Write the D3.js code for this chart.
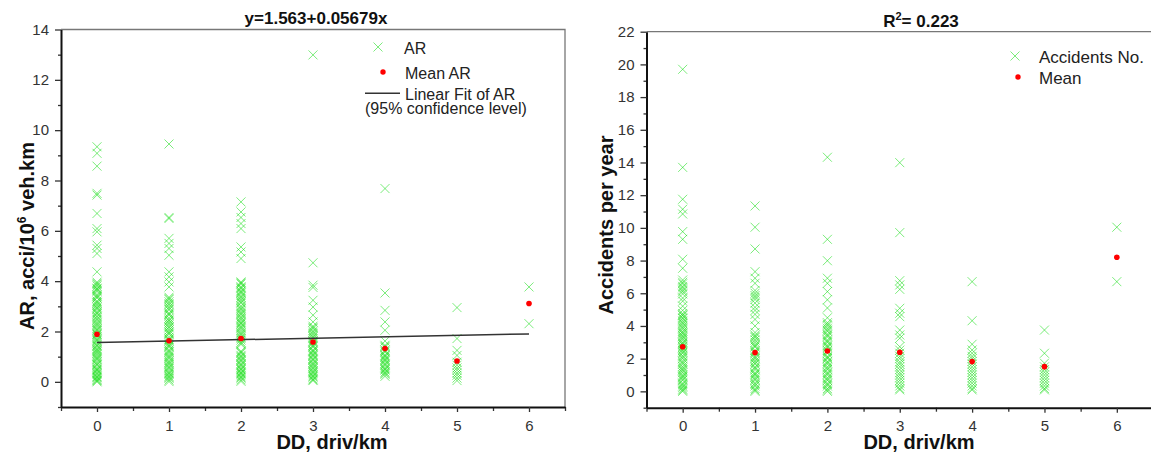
<!DOCTYPE html>
<html lang="en">
<head>
<meta charset="UTF-8">
<title>AR and accidents vs DD</title>
<script src="https://d3js.org/d3.v7.min.js"></script>
<style>
    body { margin: 0; background: #fff; }
    svg { display: block; font-family: 'Liberation Sans', Arial, sans-serif; }
    .tick text { fill: #333; font-size: 15px; }
    .axis-title { font-weight: bold; font-size: 20px; fill: #111; }
    .chart-title { font-weight: bold; font-size: 17px; fill: #111; }
    .legend-text { fill: #222; }
</style>
</head>
<body>
<svg id="chart" width="1151" height="452"></svg>
<script>
// DD categories and tick labels
const ddTicks = [0, 1, 2, 3, 4, 5, 6];
const arTicks = [0, 2, 4, 6, 8, 10, 12, 14];
const accTicks = [0, 2, 4, 6, 8, 10, 12, 14, 16, 18, 20, 22];

// AR values per DD (left panel)
const ar0 = [9.34, 9.08, 8.57, 7.49, 7.42, 6.69, 6.09, 5.96, 5.43, 5.30, 5.10, 4.37, 3.96, 3.91, 3.87, 3.81, 3.72, 3.69, 3.64, 3.59, 3.47, 3.42, 3.38, 3.33, 3.21, 3.16, 3.12, 3.05, 2.98, 2.93, 2.88, 2.79, 2.74, 2.70, 2.61, 2.56, 2.49, 2.44, 2.36, 2.31, 2.25, 2.19, 2.11, 2.07, 2.03, 1.95, 1.90, 1.86, 1.79, 1.71, 1.67, 1.62, 1.55, 1.47, 1.44, 1.40, 1.32, 1.28, 1.24, 1.19, 1.13, 1.08, 1.01, 0.96, 0.92, 0.88, 0.80, 0.73, 0.69, 0.66, 0.57, 0.51, 0.47, 0.44, 0.37, 0.33, 0.29, 0.22, 0.19, 0.16, 0.10, 0.06, 0.04, 0.0];
const ar1 = [9.45, 6.53, 6.49, 5.70, 5.50, 5.30, 5.03, 4.37, 4.17, 3.97, 3.77, 3.36, 3.31, 3.27, 3.18, 3.11, 3.06, 2.97, 2.91, 2.86, 2.74, 2.69, 2.65, 2.53, 2.46, 2.41, 2.34, 2.27, 2.19, 2.15, 2.06, 1.98, 1.93, 1.89, 1.77, 1.70, 1.66, 1.61, 1.53, 1.46, 1.42, 1.37, 1.26, 1.21, 1.17, 1.09, 1.02, 0.97, 0.93, 0.84, 0.78, 0.73, 0.69, 0.61, 0.57, 0.53, 0.45, 0.38, 0.34, 0.30, 0.23, 0.18, 0.14, 0.07, 0.01];
const ar2 = [7.15, 6.75, 6.53, 6.29, 6.09, 5.36, 5.16, 4.90, 3.97, 3.93, 3.89, 3.78, 3.74, 3.70, 3.61, 3.56, 3.52, 3.43, 3.37, 3.31, 3.24, 3.18, 3.13, 3.02, 2.95, 2.90, 2.84, 2.76, 2.71, 2.67, 2.58, 2.52, 2.47, 2.39, 2.34, 2.30, 2.21, 2.16, 2.12, 2.04, 1.96, 1.91, 1.85, 1.77, 1.72, 1.66, 1.58, 1.53, 1.49, 1.22, 1.18, 1.14, 1.05, 1.01, 0.97, 0.89, 0.85, 0.81, 0.72, 0.68, 0.64, 0.56, 0.51, 0.47, 0.39, 0.35, 0.31, 0.24, 0.19, 0.15, 0.08, 0.02];
const ar3 = [12.99, 4.73, 3.84, 3.75, 3.24, 2.97, 2.65, 2.38, 2.21, 2.16, 2.12, 2.03, 1.97, 1.91, 1.84, 1.78, 1.72, 1.63, 1.59, 1.55, 1.46, 1.42, 1.38, 1.27, 1.23, 1.19, 1.11, 1.06, 1.02, 0.93, 0.89, 0.86, 0.77, 0.72, 0.68, 0.61, 0.56, 0.52, 0.44, 0.40, 0.35, 0.28, 0.23, 0.19, 0.12, 0.08, 0.05];
const ar4 = [7.68, 3.53, 2.84, 2.38, 2.05, 1.62, 1.45, 1.41, 1.37, 1.26, 1.22, 1.18, 1.07, 1.03, 0.98, 0.91, 0.86, 0.82, 0.73, 0.69, 0.65, 0.56, 0.51, 0.47, 0.39, 0.34, 0.30, 0.22];
const ar5 = [2.95, 1.72, 1.25, 1.05, 0.78, 0.66, 0.55, 0.46, 0.35, 0.26, 0.15, 0.05];
const ar6 = [3.77, 2.31];
const arMean = [1.89, 1.63, 1.72, 1.58, 1.32, 0.83, 3.11];
const fitIntercept = 1.563;
const fitSlope = 0.05679;

// accidents per year per DD (right panel)
const acc0 = [19.7, 13.7, 11.75, 11.14, 10.85, 9.77, 9.30, 8.08, 7.53, 6.81, 6.67, 6.58, 6.42, 6.33, 6.20, 6.10, 5.96, 5.71, 5.52, 5.21, 4.95, 4.76, 4.67, 4.63, 4.50, 4.44, 4.31, 4.20, 4.12, 4.00, 3.90, 3.81, 3.67, 3.58, 3.52, 3.40, 3.33, 3.24, 3.14, 3.00, 2.93, 2.86, 2.75, 2.67, 2.58, 2.49, 2.40, 2.33, 2.18, 2.10, 2.00, 1.85, 1.75, 1.67, 1.52, 1.42, 1.33, 1.25, 1.14, 1.00, 0.93, 0.86, 0.75, 0.67, 0.50, 0.42, 0.33, 0.25, 0.14, 0.07, 0.0];
const acc1 = [11.34, 10.04, 8.71, 7.32, 6.92, 6.61, 6.17, 6.00, 5.86, 5.75, 5.62, 5.40, 5.14, 4.95, 4.71, 4.40, 4.00, 3.60, 3.43, 3.36, 3.29, 3.14, 3.00, 2.86, 2.78, 2.71, 2.50, 2.42, 2.33, 2.14, 2.07, 2.00, 1.86, 1.75, 1.67, 1.50, 1.42, 1.33, 1.14, 1.07, 1.00, 0.86, 0.75, 0.67, 0.50, 0.42, 0.33, 0.17, 0.08, 0.0];
const acc2 = [14.32, 9.30, 7.99, 6.92, 6.61, 6.10, 5.60, 5.10, 4.50, 4.20, 4.10, 4.00, 3.86, 3.75, 3.67, 3.50, 3.42, 3.33, 3.14, 3.07, 3.00, 2.83, 2.75, 2.67, 2.50, 2.42, 2.33, 2.14, 2.07, 2.00, 1.83, 1.75, 1.67, 1.50, 1.42, 1.33, 1.17, 1.08, 1.00, 0.83, 0.75, 0.67, 0.50, 0.42, 0.33, 0.17, 0.08, 0.0];
const acc3 = [13.99, 9.71, 6.77, 6.51, 6.24, 5.08, 4.78, 4.57, 3.75, 3.45, 3.25, 2.73, 2.52, 2.33, 2.14, 2.00, 1.80, 1.67, 1.50, 1.33, 1.14, 1.00, 0.83, 0.67, 0.50, 0.33, 0.17, 0.09];
const acc4 = [6.71, 4.32, 2.88, 2.53, 2.33, 2.14, 2.00, 1.83, 1.67, 1.50, 1.33, 1.17, 1.00, 0.83, 0.67, 0.50, 0.33, 0.17, 0.09];
const acc5 = [3.75, 2.33, 1.72, 1.50, 1.33, 1.17, 1.00, 0.83, 0.67, 0.50, 0.33, 0.17, 0.09];
const acc6 = [10.04, 6.71];
const accMean = [2.73, 2.37, 2.47, 2.39, 1.82, 1.51, 8.20];

const svg = d3.select("#chart");
svg.append("rect").attr("width", 1151).attr("height", 452).attr("fill", "#fff");

const crossPath = "M-4.5,-4.5L4.5,4.5M-4.5,4.5L4.5,-4.5";
const green = "#10dd10";

function drawPanel(cfg) {
    const g = svg.append("g");
    const x = d3.scaleLinear().domain([-0.5, 6.5]).range(cfg.xRange);
    const y = d3.scaleLinear().domain(cfg.yDomain).range(cfg.yRange);
    const [x0, x1] = cfg.xRange;
    const [yb, yt] = cfg.yRange;

    // frame top/right (thin gray)
    g.append("path")
        .attr("d", `M${x0},${yt}H${x1}V${yb}`)
        .attr("fill", "none").attr("stroke", "#777").attr("stroke-width", 1.3);

    // points
    const pts = [];
    cfg.cols.forEach((vals, i) => vals.forEach(v => pts.push([ddTicks[i], v])));
    g.append("g").selectAll("path").data(pts).enter().append("path")
        .attr("d", crossPath)
        .attr("transform", d => `translate(${x(d[0])},${y(d[1])})`)
        .attr("fill", "none").attr("stroke", green)
        .attr("stroke-opacity", 0.55).attr("stroke-width", 1);

    if (cfg.fit) {
        g.append("line")
            .attr("x1", x(0)).attr("y1", y(cfg.fit[0]))
            .attr("x2", x(6)).attr("y2", y(cfg.fit[0] + cfg.fit[1] * 6))
            .attr("stroke", "#333").attr("stroke-width", 1.5);
    }

    g.append("g").selectAll("circle").data(cfg.means).enter().append("circle")
        .attr("cx", (d, i) => x(ddTicks[i])).attr("cy", d => y(d))
        .attr("r", 2.8).attr("fill", "#f00");

    // axes
    const minorX = d3.range(-0.5, 6.51, 0.5).filter(v => v % 1 !== 0);
    g.append("g").attr("transform", `translate(0,${yb})`)
        .call(d3.axisBottom(x).tickValues(minorX).tickSize(4).tickFormat(""))
        .call(a => a.select(".domain").remove())
        .selectAll("line").attr("stroke", "#333").attr("stroke-width", 1.3);
    g.append("g").attr("transform", `translate(0,${yb})`)
        .call(d3.axisBottom(x).tickValues(ddTicks).tickFormat(d3.format("d"))
            .tickSize(5).tickPadding(8).tickSizeOuter(0))
        .call(a => a.select(".domain").attr("stroke", "#111").attr("stroke-width", 2))
        .call(a => a.selectAll("line").attr("stroke", "#333").attr("stroke-width", 1.3))
        .call(a => a.selectAll("text").attr("font-family", null).attr("font-size", null));

    const minorY = d3.range(cfg.yDomain[0], cfg.yDomain[1] + 0.01, 1).filter(v => v % 2 !== 0);
    g.append("g").attr("transform", `translate(${x0},0)`)
        .call(d3.axisLeft(y).tickValues(minorY).tickSize(3).tickFormat(""))
        .call(a => a.select(".domain").remove())
        .selectAll("line").attr("stroke", "#333").attr("stroke-width", 1.3);
    g.append("g").attr("transform", `translate(${x0},0)`)
        .call(d3.axisLeft(y).tickValues(cfg.yTicks).tickFormat(d3.format("d"))
            .tickSize(6).tickPadding(6).tickSizeOuter(0))
        .call(a => a.select(".domain").attr("stroke", "#111").attr("stroke-width", 2))
        .call(a => a.selectAll("line").attr("stroke", "#333").attr("stroke-width", 1.3))
        .call(a => a.selectAll("text").attr("font-family", null).attr("font-size", null));

    // titles
    g.append("text").attr("class", "axis-title")
        .attr("x", cfg.xTitleX).attr("y", 449).attr("text-anchor", "middle")
        .text("DD, driv/km");
    const yt2 = g.append("text").attr("class", "axis-title")
        .attr("transform", `translate(${cfg.yTitle[0]},${cfg.yTitle[1]}) rotate(-90)`)
        .attr("text-anchor", "middle");
    cfg.yTitleParts(yt2);

    const tt = g.append("text").attr("class", "chart-title")
        .attr("x", cfg.title[0]).attr("y", cfg.title[1]).attr("text-anchor", "middle");
    cfg.titleParts(tt);

    // legend
    const lg = g.append("g").attr("font-size", cfg.legendSize + "px");
    cfg.legend.forEach(item => {
        if (item.type === "cross") {
            lg.append("path").attr("d", crossPath)
                .attr("transform", `translate(${item.sx},${item.sy})`)
                .attr("fill", "none").attr("stroke", green).attr("stroke-opacity", 0.55);
        } else if (item.type === "dot") {
            lg.append("circle").attr("cx", item.sx).attr("cy", item.sy).attr("r", 2.7).attr("fill", "#f00");
        } else if (item.type === "line") {
            lg.append("line").attr("x1", item.sx).attr("x2", item.sx + 35)
                .attr("y1", item.sy).attr("y2", item.sy).attr("stroke", "#333").attr("stroke-width", 1.5);
        }
        item.lines.forEach(l => {
            lg.append("text").attr("class", "legend-text")
                .attr("x", l[0]).attr("y", l[1]).text(l[2]);
        });
    });
}

drawPanel({
    xRange: [61, 565],
    yDomain: [-1, 14],
    yRange: [407, 29.5],
    yTicks: arTicks,
    cols: [ar0, ar1, ar2, ar3, ar4, ar5, ar6],
    means: arMean,
    fit: [fitIntercept, fitSlope],
    xTitleX: 332,
    yTitle: [34, 236],
    yTitleParts: t => {
        t.append("tspan").text("AR, acci/10");
        t.append("tspan").attr("font-size", "12px").attr("dy", -8).text("6");
        t.append("tspan").attr("dy", 8).text(" veh.km");
    },
    title: [316, 24],
    titleParts: t => t.text("y=1.563+0.05679x"),
    legendSize: 16,
    legend: [
        { type: "cross", sx: 378, sy: 47, lines: [[404, 53.5, "AR"]] },
        { type: "dot", sx: 383, sy: 72, lines: [[405, 79, "Mean AR"]] },
        { type: "line", sx: 365, sy: 93.3, lines: [[405, 99.5, "Linear Fit of AR"], [365, 113.5, "(95% confidence level)"]] }
    ]
});

drawPanel({
    xRange: [646.5, 1153],
    yDomain: [-1, 22],
    yRange: [407.7, 31.7],
    yTicks: accTicks,
    cols: [acc0, acc1, acc2, acc3, acc4, acc5, acc6],
    means: accMean,
    fit: null,
    xTitleX: 919,
    yTitle: [613, 225],
    yTitleParts: t => t.text("Accidents per year"),
    title: [921, 27],
    titleParts: t => {
        t.append("tspan").text("R");
        t.append("tspan").attr("font-size", "11px").attr("dy", -7).text("2");
        t.append("tspan").attr("dy", 7).text("= 0.223");
    },
    legendSize: 17,
    legend: [
        { type: "cross", sx: 1015, sy: 56, lines: [[1039, 62.5, "Accidents No."]] },
        { type: "dot", sx: 1018, sy: 77, lines: [[1039, 83.5, "Mean"]] }
    ]
});
</script>
</body>
</html>
